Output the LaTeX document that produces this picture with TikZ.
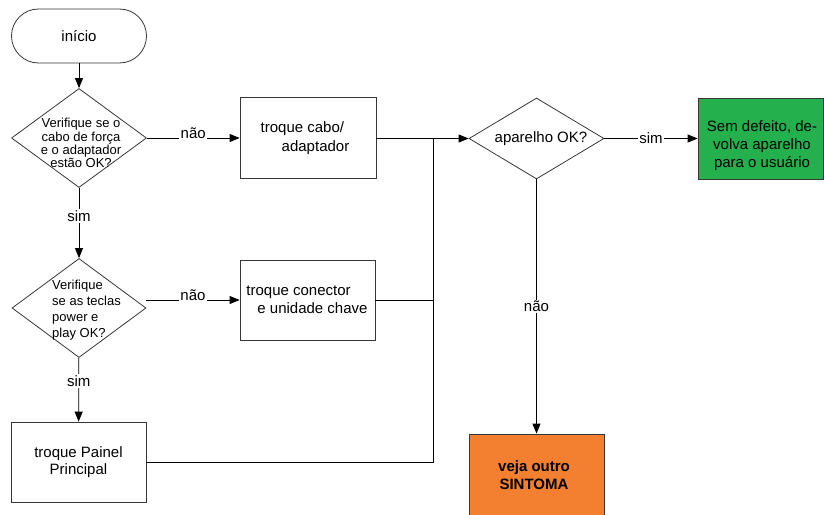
\documentclass[tikz,border=0pt]{standalone}
\usepackage{fontspec}
\setmainfont{Liberation Sans}
\usetikzlibrary{shapes.geometric,arrows.meta}
\definecolor{boxgreen}{RGB}{36,176,76}
\definecolor{boxorange}{RGB}{243,128,48}
\definecolor{edgegray}{RGB}{55,55,55}
\begin{document}
\begin{tikzpicture}[x=1pt,y=-1pt,
  every node/.style={font=\fontsize{15}{18}\selectfont},
  shapebox/.style={draw=edgegray,line width=0.8pt,rectangle,inner sep=0pt},
  decision/.style={draw=edgegray,line width=0.8pt,diamond,inner sep=0pt},
  conn/.style={draw=black,line width=0.8pt},
  arr/.style={conn,-{Triangle[length=10pt,width=8pt]}},
  lbl/.style={fill=white,inner sep=1.5pt},
  dtext/.style={font=\fontsize{13}{11.5}\selectfont,inner sep=0pt}]
\useasboundingbox (0,0) rectangle (824,514);
% shapes
\node[shapebox,rounded corners=27pt,minimum width=135pt,minimum height=54pt] (start) at (79,36) {início};
\node[decision,minimum width=135pt,minimum height=99pt] (d1) at (79,138) {};
\node[dtext,align=center] (t1) at (81,143) {Verifique se o\\cabo de força\\e o adaptador\\estão OK?};
\node[shapebox,minimum width=136pt,minimum height=81pt] (b1) at (308,138) {};
\node[align=left,font=\fontsize{15}{19}\selectfont] (tb1) at (305,138) {troque cabo/\\\hspace{21pt}adaptador};
\node[decision,minimum width=134pt,minimum height=99pt] (d2) at (79,308) {};
\node[dtext,align=left,anchor=west,font=\fontsize{13}{16}\selectfont] (t2) at (52,310) {Verifique\\se as teclas\\power e\\play OK?};
\node[shapebox,minimum width=135pt,minimum height=80pt] (b2) at (307.5,300) {};
\node[align=left] (tb2) at (307,300) {troque conector\\\hspace{11pt}e unidade chave};
\node[shapebox,minimum width=135pt,minimum height=80pt,align=center,font=\fontsize{15}{17.5}\selectfont] (b3) at (78.5,462) {troque Painel\\Principal};
\node[decision,minimum width=135pt,minimum height=81pt] (d3) at (536.5,138.5) {};
\node (t3) at (541,138.5) {aparelho OK?};
\node[shapebox,fill=boxgreen,minimum width=125pt,minimum height=81pt] (g) at (760.5,138.5) {};
\node[align=center] (tg) at (762,146) {Sem defeito, de-\\volva aparelho\\para o usuário};
\node[shapebox,fill=boxorange,minimum width=135pt,minimum height=90pt] (o) at (536.5,479) {};
\node[align=center,font=\fontsize{15}{18}\bfseries] (to) at (534,475) {veja outro\\SINTOMA};
% junction
\coordinate (j) at (433,138.5);
% connectors
\draw[arr] (start) -- (d1);
\draw[arr] (d1.east) -- node[lbl,pos=0.5,yshift=5pt] (l1) {não} (b1.west |- d1.east);
\draw[arr] (d1) -- node[lbl,pos=0.4] (l2) {sim} (d2);
\draw[arr] (d2.east |- b2.west) -- node[lbl,pos=0.5,yshift=5pt] (l3) {não} (b2.west);
\draw[arr] (d2) -- node[lbl,pos=0.36] (l4) {sim} (b3);
\draw[arr] (b1.east |- d3.west) -- (d3.west);
\draw[conn] (b2.east) -- (b2.east -| j);
\draw[conn] (b3.east) -| (j);
\draw[arr] (d3.east) -- node[lbl,pos=0.5] (l5) {sim} (g.west);
\draw[arr] (d3.south) -- node[lbl,pos=0.5] (l6) {não} (o.north);
\end{tikzpicture}
\end{document}
